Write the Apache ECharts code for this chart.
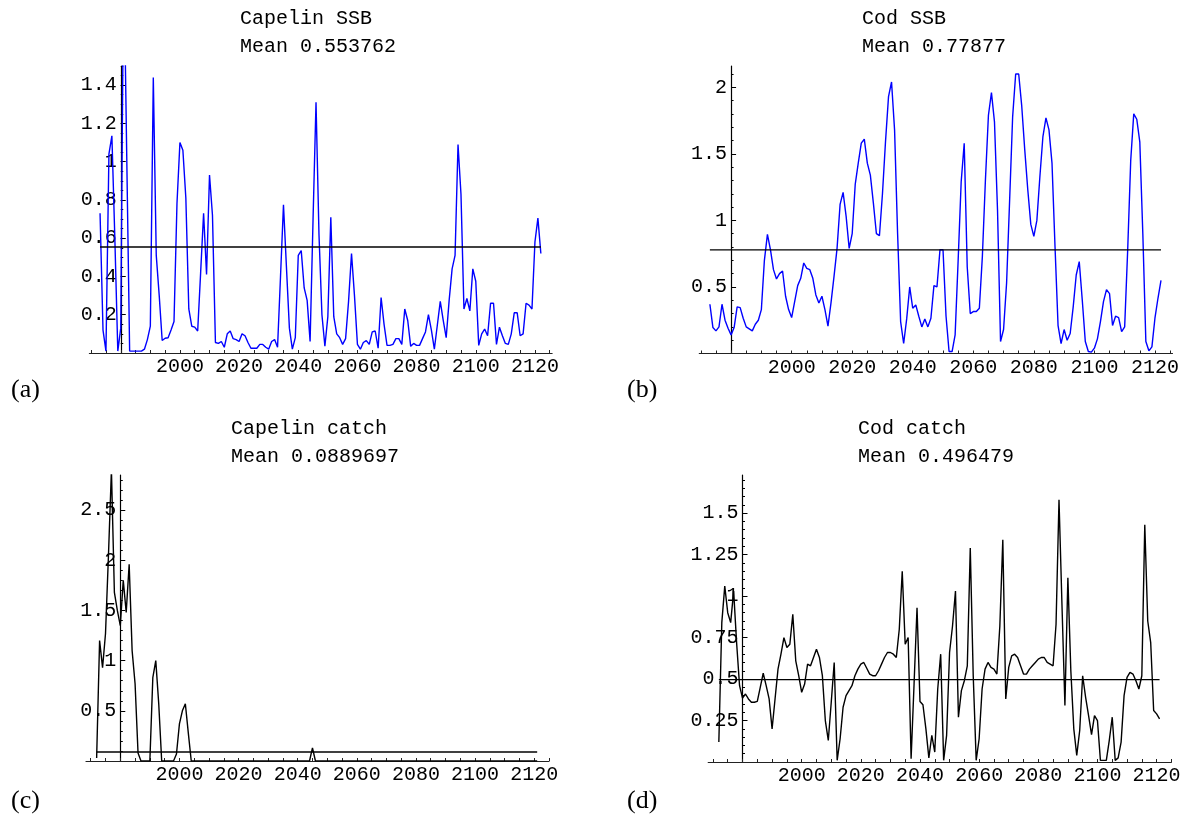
<!DOCTYPE html>
<html>
<head>
<meta charset="utf-8">
<script src="https://cdn.jsdelivr.net/npm/echarts@6/dist/echarts.min.js"></script>
<style>
html,body{margin:0;padding:0;background:#fff;}
#chart{width:1189px;height:814px;}
</style>
</head>
<body>
<div id="chart"></div>
<script>
// ---------------- data ----------------
const ORIGIN_YEAR = 1980;               // year where the vertical axis crosses
const ssbStartYear = 1973;              // first year of SSB series
const catchStartYear = 1972;            // first year of catch series

const panelTitles = ['Capelin SSB', 'Cod SSB', 'Capelin catch', 'Cod catch'];
const panelLetters = ['(a)', '(b)', '(c)', '(d)'];
const panelMeans = [0.553762, 0.77877, 0.0889697, 0.496479];

const xLabelYears = [2000, 2020, 2040, 2060, 2080, 2100, 2120];
const xTickYears = [1970, 1975, 1980, 1985, 1990, 1995, 2000, 2005, 2010, 2015, 2020, 2025, 2030, 2035, 2040,
  2045, 2050, 2055, 2060, 2065, 2070, 2075, 2080, 2085, 2090, 2095, 2100, 2105, 2110, 2115, 2120, 2125];

const capelinSSBTicks = [0.2, 0.4, 0.6, 0.8, 1, 1.2, 1.4];
const codSSBTicks = [0.5, 1, 1.5, 2];
const capelinCatchTicks = [0.5, 1, 1.5, 2, 2.5];
const codCatchTicks = [0.25, 0.5, 0.75, 1, 1.25, 1.5];

const capelinSSB = [
  0.73, 0.12, 0.01, 1.04, 1.135, 0.6, 0.01, 0.13, 2.1, 1.05,
  0.01, 0.01, 0.01, 0.01, 0.01, 0.02, 0.07, 0.14, 1.44, 0.51,
  0.3, 0.065, 0.077, 0.08, 0.12, 0.165, 0.78, 1.1, 1.06, 0.81,
  0.23, 0.14, 0.135, 0.115, 0.42, 0.73, 0.41, 0.93, 0.72, 0.055,
  0.05, 0.06, 0.03, 0.1, 0.115, 0.075, 0.07, 0.06, 0.1, 0.09,
  0.055, 0.025, 0.025, 0.025, 0.045, 0.045, 0.03, 0.02, 0.06, 0.07,
  0.03, 0.4, 0.775, 0.45, 0.13, 0.02, 0.08, 0.51, 0.535, 0.34,
  0.275, 0.06, 0.7, 1.31, 0.62, 0.2, 0.035, 0.19, 0.71, 0.19,
  0.1, 0.08, 0.045, 0.075, 0.27, 0.52, 0.3, 0.045, 0.02, 0.055,
  0.065, 0.045, 0.11, 0.115, 0.025, 0.29, 0.15, 0.04, 0.04, 0.045,
  0.075, 0.075, 0.045, 0.23, 0.17, 0.035, 0.05, 0.04, 0.04, 0.075,
  0.11, 0.2, 0.12, 0.02, 0.145, 0.27, 0.17, 0.08, 0.275, 0.44,
  0.51, 1.09, 0.83, 0.23, 0.285, 0.22, 0.44, 0.375, 0.04, 0.1,
  0.125, 0.09, 0.26, 0.26, 0.045, 0.135, 0.09, 0.05, 0.045, 0.1,
  0.21, 0.21, 0.09, 0.1, 0.26, 0.25, 0.23, 0.58, 0.705, 0.52
];

const codSSB = [
  0.37, 0.195, 0.17, 0.2, 0.37, 0.25, 0.19, 0.14, 0.195, 0.35,
  0.345, 0.265, 0.2, 0.185, 0.17, 0.22, 0.25, 0.33, 0.7, 0.895,
  0.78, 0.63, 0.56, 0.6, 0.62, 0.43, 0.33, 0.27, 0.39, 0.51,
  0.565, 0.68, 0.64, 0.63, 0.565, 0.44, 0.38, 0.43, 0.33, 0.205,
  0.38, 0.58, 0.79, 1.12, 1.21, 1.03, 0.79, 0.9, 1.27, 1.43,
  1.58, 1.61, 1.43, 1.34, 1.13, 0.9, 0.885, 1.2, 1.59, 1.93,
  2.04, 1.68, 0.9, 0.24, 0.075, 0.26, 0.5, 0.34, 0.365, 0.28,
  0.2, 0.26, 0.2, 0.265, 0.51, 0.5, 0.78, 0.78, 0.28, 0.015,
  0.015, 0.14, 0.7, 1.29, 1.58, 0.65, 0.3, 0.315, 0.315, 0.34,
  0.73, 1.3, 1.79, 1.96, 1.74, 1.08, 0.09, 0.18, 0.53, 1.15,
  1.78, 2.1, 2.1, 1.86, 1.53, 1.23, 0.97, 0.88, 1.0, 1.33,
  1.63, 1.77, 1.68, 1.43, 0.8, 0.21, 0.075, 0.18, 0.1, 0.15,
  0.35, 0.59, 0.69, 0.4, 0.09, 0.015, 0.01, 0.04, 0.11, 0.24,
  0.39, 0.48, 0.45, 0.21, 0.28, 0.27, 0.165, 0.2, 0.78, 1.45,
  1.8, 1.76, 1.59, 0.9, 0.09, 0.02, 0.05, 0.265, 0.415, 0.55
];

const capelinCatch = [
  0.03, 1.2, 0.93, 1.27, 2.05, 2.9, 1.68, 1.5, 1.35, 1.8,
  1.48, 1.96, 1.1, 0.77, 0.08, 0, 0, 0, 0, 0.83,
  1.0, 0.57, 0, 0, 0, 0, 0, 0.07, 0.37, 0.5,
  0.57, 0.28, 0, 0, 0, 0, 0, 0, 0, 0,
  0, 0, 0, 0, 0, 0, 0, 0, 0, 0,
  0, 0, 0, 0, 0, 0, 0, 0, 0, 0,
  0, 0, 0, 0, 0, 0, 0, 0, 0, 0,
  0, 0, 0, 0.13, 0, 0, 0, 0, 0, 0,
  0, 0, 0, 0, 0, 0, 0, 0, 0, 0,
  0, 0, 0, 0, 0, 0, 0, 0, 0, 0,
  0, 0, 0, 0, 0, 0, 0, 0, 0, 0,
  0, 0, 0, 0, 0, 0, 0, 0, 0, 0,
  0, 0, 0, 0, 0, 0, 0, 0, 0, 0,
  0, 0, 0, 0, 0, 0, 0, 0, 0, 0,
  0, 0, 0, 0, 0, 0, 0, 0, 0, 0
];

const codCatch = [
  0.12, 0.84, 1.06, 0.9, 0.84, 1.03, 0.72, 0.46, 0.385, 0.41,
  0.38, 0.36, 0.36, 0.365, 0.45, 0.535, 0.46, 0.38, 0.2, 0.38,
  0.56, 0.65, 0.75, 0.69, 0.71, 0.89, 0.61, 0.52, 0.42, 0.47,
  0.59, 0.58, 0.63, 0.68, 0.63, 0.52, 0.25, 0.13, 0.36, 0.6,
  0.01, 0.14, 0.33, 0.4, 0.43, 0.46, 0.52, 0.56, 0.59, 0.6,
  0.565, 0.53, 0.52, 0.52, 0.55, 0.59, 0.63, 0.66, 0.66, 0.65,
  0.63, 0.8, 1.15, 0.71, 0.75, 0.02, 0.47, 0.93, 0.365, 0.345,
  0.2, 0.025, 0.16, 0.06, 0.44, 0.65, 0.01, 0.16, 0.66, 0.82,
  1.03, 0.27, 0.43, 0.49, 0.58, 1.29, 0.52, 0.01, 0.14, 0.44,
  0.56, 0.6, 0.57, 0.56, 0.53, 0.82, 1.34, 0.38, 0.57, 0.64,
  0.65, 0.63, 0.58, 0.53, 0.53, 0.56, 0.58, 0.6, 0.62, 0.63,
  0.63, 0.6, 0.59, 0.58, 0.83, 1.58, 0.95, 0.34, 1.11, 0.55,
  0.2, 0.04, 0.19, 0.52, 0.39, 0.28, 0.165, 0.28, 0.25, 0.01,
  0.01, 0.01, 0.13, 0.27, 0.01, 0.025, 0.12, 0.4, 0.51, 0.54,
  0.53, 0.49, 0.44, 0.52, 1.43, 0.85, 0.72, 0.31, 0.29, 0.26
];

// ---------------- layout / style ----------------
const MONO = '"Liberation Mono", "Courier New", monospace';
const panels = [
  { values: capelinSSB, start: ssbStartYear, color: '#0000ff', yTicks: capelinSSBTicks, yMinorStep: 0.05, yMax: 1.5,
    grid: { left: 89.4, top: 66, width: 462.7, height: 287 }, xMin: 1969.4, xMax: 2125.8,
    titlePos: { left: 240, top: 5 }, letterPos: { left: 11, top: 377 } },
  { values: codSSB, start: ssbStartYear, color: '#0000ff', yTicks: codSSBTicks, yMinorStep: 0.1, yMax: 2.16,
    grid: { left: 699.3, top: 66, width: 473.2, height: 287.5 }, xMin: 1969.5, xMax: 2125.8,
    titlePos: { left: 862, top: 5 }, letterPos: { left: 627, top: 377 } },
  { values: capelinCatch, start: catchStartYear, color: '#000000', yTicks: capelinCatchTicks, yMinorStep: 0.1, yMax: 2.85,
    grid: { left: 86, top: 475, width: 463, height: 286 }, xMin: 1968.4, xMax: 2125,
    titlePos: { left: 231, top: 415 }, letterPos: { left: 11, top: 788 } },
  { values: codCatch, start: catchStartYear, color: '#000000', yTicks: codCatchTicks, yMinorStep: 0.05, yMax: 1.73,
    grid: { left: 708.2, top: 475, width: 463.2, height: 287 }, xMin: 1968.4, xMax: 2125,
    titlePos: { left: 858, top: 415 }, letterPos: { left: 627, top: 788 } }
];

const fmtNum = v => String(+(+v).toFixed(3));

const grid = [], xAxis = [], yAxis = [], series = [], title = [], graphic = [];
panels.forEach((p, i) => {
  grid.push(Object.assign({ containLabel: false }, p.grid));
  // shift the vertical axis from the grid's left edge to the origin year
  const yOffset = -(ORIGIN_YEAR - p.xMin) / (p.xMax - p.xMin) * p.grid.width;
  xAxis.push({
    type: 'value', gridIndex: i,
    min: p.xMin, max: p.xMax,
    axisLine: { onZero: true, lineStyle: { color: '#222', width: 1.2 } },
    axisTick: { inside: true, length: 3, lineStyle: { color: '#222', width: 1 }, customValues: xTickYears },
    axisLabel: { customValues: xLabelYears, formatter: v => String(Math.round(v)),
      fontFamily: MONO, fontSize: 20, color: '#000', margin: 4 },
    splitLine: { show: false }
  });
  const minorY = [];
  for (let k = 1; k * p.yMinorStep <= p.yMax + 1e-9; k++) minorY.push(+(k * p.yMinorStep).toFixed(4));
  yAxis.push({
    type: 'value', gridIndex: i, position: 'left', offset: yOffset, min: 0, max: p.yMax,
    axisLine: { onZero: false, lineStyle: { color: '#000', width: 1.2 } },
    axisTick: { inside: true, length: 5, lineStyle: { color: '#000', width: 1 }, customValues: p.yTicks },
    axisLabel: { customValues: p.yTicks, formatter: fmtNum, fontFamily: MONO, fontSize: 20, color: '#000', margin: 4 },
    splitLine: { show: false }
  });
  yAxis.push({
    type: 'value', gridIndex: i, position: 'left', offset: yOffset, min: 0, max: p.yMax,
    axisLine: { show: false, onZero: false },
    axisTick: { inside: true, length: 2.5, lineStyle: { color: '#000', width: 1 }, customValues: minorY },
    axisLabel: { show: false },
    splitLine: { show: false }
  });
  const data = p.values.map((v, k) => [p.start + k, v]);
  series.push({
    type: 'line', xAxisIndex: i, yAxisIndex: 2 * i, data: data,
    showSymbol: false, symbol: 'none', clip: true,
    lineStyle: { color: p.color, width: 1.4 }, z: 2, animation: false
  });
  const first = data[0][0], last = data[data.length - 1][0];
  series.push({
    type: 'line', xAxisIndex: i, yAxisIndex: 2 * i,
    data: [[first, panelMeans[i]], [last, panelMeans[i]]],
    showSymbol: false, symbol: 'none',
    lineStyle: { color: '#000', width: 1.4 }, z: 3, animation: false
  });
  title.push({
    text: panelTitles[i] + '\nMean ' + panelMeans[i],
    left: p.titlePos.left, top: p.titlePos.top, padding: 0, textAlign: 'left',
    textStyle: { fontFamily: MONO, fontSize: 20, fontWeight: 'normal', color: '#000', lineHeight: 28 }
  });
  graphic.push({
    type: 'text', left: p.letterPos.left, top: p.letterPos.top,
    style: { text: panelLetters[i], font: '26px "Liberation Serif", serif', fill: '#000' }
  });
});

const chart = echarts.init(document.getElementById('chart'), null, { renderer: 'canvas' });
chart.setOption({
  backgroundColor: '#ffffff',
  animation: false,
  title, grid, xAxis, yAxis, series, graphic
});
</script>
</body>
</html>
